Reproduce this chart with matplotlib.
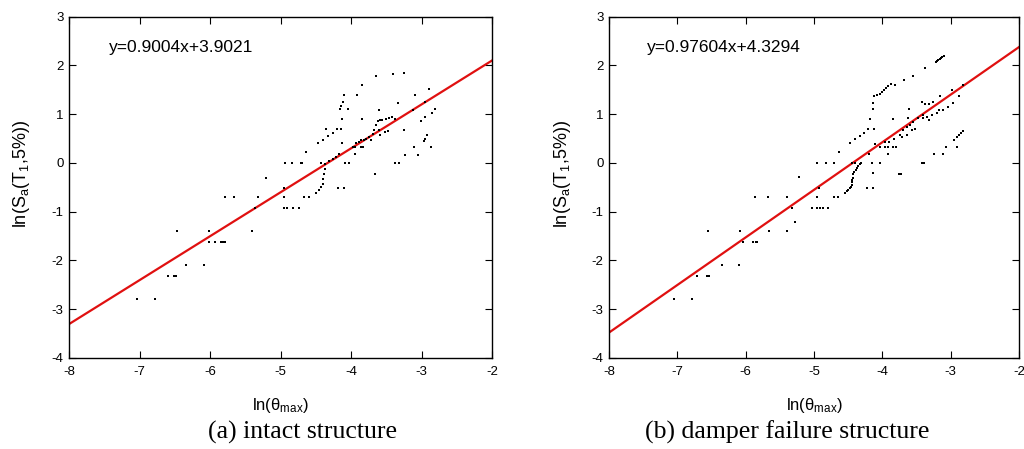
import matplotlib
matplotlib.use("Agg")
import matplotlib.pyplot as plt
import numpy as np

plt.rcParams['font.family'] = ['Liberation Sans', 'DejaVu Sans']
plt.rcParams['mathtext.fontset'] = 'custom'
plt.rcParams['mathtext.rm'] = 'Liberation Sans'
plt.rcParams['mathtext.it'] = 'Liberation Sans:italic'
plt.rcParams['axes.unicode_minus'] = False

# ---- data: (a) intact structure ----
a_x = [-7.045, -6.785, -6.596, -6.511, -6.492, -6.341, -6.091,
       -6.024, -5.935, -5.845, -5.817, -5.784,
       -6.478, -6.015, -5.406,
       -5.789, -5.666, -5.316, -4.957, -4.673, -4.593,
       -5.36, -4.957, -4.910, -4.820, -4.740,
       -5.212, -4.957, -4.192, -4.106,
       -4.376, -4.385, -4.395, -4.404, -4.423, -4.456, -4.494, -3.662,
       -4.938, -4.839, -4.711, -4.692, -4.433, -4.366, -4.083, -4.026, -3.379, -3.327,
       -4.173, -4.210, -4.258, -4.310, -3.951, -3.232, -4.636,
       -3.974, -3.951, -3.856, -3.837, -3.110,
       -4.466, -4.395, -4.329, -4.258, -4.352, -4.201, -4.140, -4.125,
       -3.927, -3.894, -3.856, -3.823, -3.785, -3.752, -3.714,
       -3.691, -3.677, -3.606, -3.587, -3.525, -3.473, -3.247,
       -3.643, -4.125, -3.842, -3.620, -3.587, -3.558, -3.511, -3.469, -3.421, -3.379,
       -4.163, -4.050, -3.606, -3.119, -4.140, -4.116, -3.341,
       -4.102, -3.918, -3.847, -3.653, -3.407, -3.247,
       -3.091, -2.897, -2.954, -2.807, -2.854, -2.944, -3.001, -2.916, -2.949, -2.972, -2.864, -3.057]
a_y = [-2.785, -2.785, -2.313, -2.313, -2.313, -2.095, -2.095,
       -1.623, -1.623, -1.623, -1.623, -1.623,
       -1.398, -1.398, -1.398,
       -0.695, -0.695, -0.695, -0.695, -0.695, -0.695,
       -0.92, -0.92, -0.92, -0.92, -0.92,
       -0.298, -0.517, -0.517, -0.517,
       -0.114, -0.230, -0.333, -0.428, -0.497, -0.551, -0.606, -0.230,
       0.0, 0.0, 0.0, 0.0, 0.0, -0.025, 0.0, 0.0, 0.0, 0.0,
       0.180, 0.132, 0.091, 0.043, 0.180, 0.173, 0.221,
       0.323, 0.323, 0.323, 0.323, 0.323,
       0.405, 0.473, 0.555, 0.624, 0.692, 0.692, 0.692, 0.405,
       0.405, 0.439, 0.473, 0.473, 0.494, 0.528, 0.473,
       0.596, 0.678, 0.678, 0.583, 0.644, 0.665, 0.685,
       0.781, 0.904, 0.904, 0.870, 0.883, 0.883, 0.904, 0.931, 0.951, 0.897,
       1.102, 1.102, 1.095, 1.095, 1.177, 1.245, 1.238,
       1.396, 1.396, 1.600, 1.792, 1.819, 1.853,
       1.388, 1.511, 1.245, 1.101, 1.019, 0.951, 0.869, 0.582, 0.487, 0.459, 0.337, 0.172]
a_fit = (0.9004, 3.9021)
a_eq = "y=0.9004x+3.9021"

# ---- data: (b) damper failure structure ----
b_x = [-7.044, -6.790, -6.707, -6.571, -6.536, -6.351, -6.092,
       -6.034, -5.888, -5.853, -5.829,
       -6.546, -6.083, -5.658, -5.400, -5.278,
       -5.317, -5.034, -4.961, -4.912, -4.863, -4.790,
       -5.863, -5.678, -5.390, -4.961, -4.707, -4.644,
       -4.922, -4.229, -4.141,
       -4.546, -4.522, -4.498, -4.473, -4.463, -4.449, -4.445, -4.439, -4.434,
       -5.215, -4.951, -4.829, -4.708,
       -4.434, -4.41, -4.39, -4.37, -4.35, -4.33, -4.31, -4.45, -4.40,
       -4.19, -4.15, -4.03, -4.142, -3.751, -3.727, -3.414, -3.390,
       -3.239, -3.117, -3.068, -2.912, -2.946, -2.912, -2.878, -2.849, -2.824,
       -4.634, -4.473, -4.400, -4.332, -4.264, -4.215, -4.117,
       -4.181, -4.141, -4.132, -4.117, -4.083, -4.039, -4.000, -3.971, -3.942, -3.912, -3.873, -3.815,
       -3.678, -3.547, -3.376,
       -3.22, -3.20, -3.18, -3.16, -3.14, -3.12, -3.10,
       -3.849, -3.610, -4.10,
       -4.03, -3.96, -3.92, -3.84, -3.80, -3.96, -3.92,
       -3.902, -3.824, -3.742, -3.717, -3.644,
       -3.693, -3.644, -3.595, -3.571, -3.522, -3.546,
       -3.620, -3.483, -3.400, -3.400, -3.351, -3.312, -3.278, -3.205, -3.166, -3.107, -3.034, -2.961,
       -3.420, -3.376, -3.317, -3.263, -3.156, -2.980, -2.878, -2.815]
b_y = [-2.785, -2.785, -2.313, -2.313, -2.313, -2.095, -2.095,
       -1.623, -1.623, -1.623, -1.623,
       -1.398, -1.398, -1.398, -1.398, -1.214,
       -0.927, -0.927, -0.927, -0.927, -0.927, -0.927,
       -0.701, -0.701, -0.701, -0.701, -0.701, -0.701,
       -0.517, -0.517, -0.517,
       -0.606, -0.565, -0.551, -0.517, -0.497, -0.449, -0.40, -0.347, -0.30,
       -0.292, 0.0, 0.0, 0.0,
       -0.224, -0.18, -0.14, -0.10, -0.06, -0.03, 0.0, 0.0, 0.0,
       0.18, 0.0, 0.0, -0.21, -0.224, -0.224, 0.0, 0.0,
       0.179, 0.179, 0.337, 0.337, 0.473, 0.528, 0.576, 0.623, 0.658,
       0.220, 0.405, 0.487, 0.555, 0.623, 0.692, 0.692,
       0.910, 1.101, 1.238, 1.375, 1.388, 1.416, 1.457, 1.498, 1.539, 1.580, 1.614, 1.600,
       1.696, 1.784, 1.942,
       2.08, 2.10, 2.12, 2.14, 2.16, 2.18, 2.20,
       0.910, 1.101, 0.39,
       0.337, 0.337, 0.337, 0.337, 0.337, 0.42, 0.18,
       0.439, 0.487, 0.576, 0.542, 0.576,
       0.678, 0.746, 0.780, 0.678, 0.692, 0.849,
       0.917, 0.917, 0.917, 0.985, 0.951, 0.883, 0.985, 1.019, 1.088, 1.088, 1.156, 1.224,
       1.245, 1.204, 1.204, 1.245, 1.382, 1.498, 1.382, 1.600]
b_fit = (0.97604, 4.3294)
b_eq = "y=0.97604x+4.3294"

x_ticks = [-8, -7, -6, -5, -4, -3, -2]
y_ticks = [-4, -3, -2, -1, 0, 1, 2, 3]
captions = ["(a) intact structure", "(b) damper failure structure"]

fig = plt.figure(figsize=(10.24, 4.49), dpi=100)
ax_rects = [[69.3/1024, 1-358/449, (492-69.3)/1024, (358-16.7)/449],
            [609/1024, 1-358/449, (1019-609)/1024, (358-16.7)/449]]
cap_x = [302/1024, 787/1024]
panels = [(a_x, a_y, a_fit, a_eq), (b_x, b_y, b_fit, b_eq)]

for i, (xs, ys, fit, eq) in enumerate(panels):
    ax = fig.add_axes(ax_rects[i])
    ax.scatter(xs, ys, s=3, c='black', marker='s', linewidths=0, zorder=3)
    lx = np.array([-8, -2])
    ax.plot(lx, fit[0]*lx + fit[1], color='#e01010', lw=1.6, zorder=2)
    ax.set_xlim(-8, -2)
    ax.set_ylim(-4, 3)
    ax.set_xticks(x_ticks)
    ax.set_yticks(y_ticks)
    ax.tick_params(direction='in', top=True, right=True, length=5, width=0.8,
                   labelsize=9.5)
    ax.tick_params(axis='x', pad=6)
    ax.tick_params(axis='y', pad=4)
    for sp in ax.spines.values():
        sp.set_linewidth(1.0)
    ax.text(0.093, 0.91, eq, transform=ax.transAxes, fontsize=12.5, va='center', ha='left')
    ax.set_xlabel(r'ln($\mathrm{\theta}_{\mathrm{max}}$)', fontsize=12)
    ax.set_ylabel(r'ln(S$_{\mathrm{a}}$(T$_{\mathrm{1}}$,5%))', fontsize=13)
    ax.xaxis.set_label_coords(0.5, -0.112)
    ax.yaxis.set_label_coords(-0.088, 0.54)
    fig.text(cap_x[i], 1-432/449, captions[i], ha='center', va='center',
             fontsize=18.5, family='Liberation Serif')

fig.savefig('out.png', dpi=100)
